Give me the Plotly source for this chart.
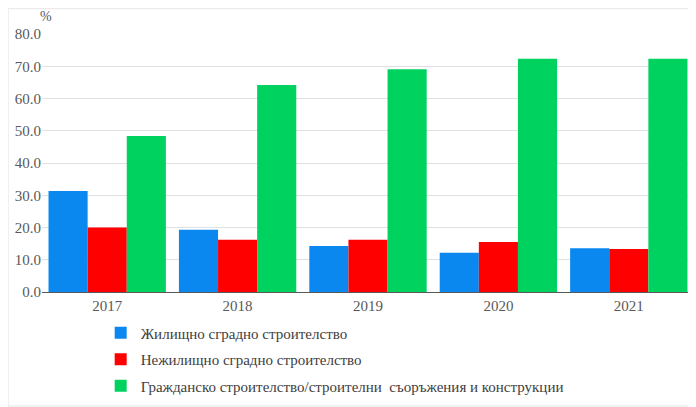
import plotly.graph_objects as go

years = ["2017", "2018", "2019", "2020", "2021"]
residential = [31.3, 19.3, 14.3, 12.2, 13.6]
non_residential = [20.0, 16.2, 16.2, 15.5, 13.3]
civil = [48.4, 64.2, 69.1, 72.3, 72.3]

series_names = [
    "Жилищно сградно строителство",
    "Нежилищно сградно строителство",
    "Гражданско строителство/строителни  съоръжения и конструкции",
]
colors = ["#0a88f0", "#ff0000", "#00d260"]
serif = "Liberation Serif, Times New Roman, serif"

fig = go.Figure()
for i, (name, vals) in enumerate(zip(series_names, [residential, non_residential, civil])):
    fig.add_trace(go.Bar(
        x=years, y=vals, name=name,
        marker=dict(color=colors[i], line=dict(width=0)),
        legendgroup="g%d" % i,
    ))

# page body has an 8px margin, so the figure is 8px smaller than the window
fig.update_layout(
    width=688, height=399,
    margin=dict(l=34, r=2, t=26, b=115, autoexpand=False),
    paper_bgcolor="white", plot_bgcolor="white",
    barmode="group", bargap=0.1, bargroupgap=0,
    font=dict(family=serif, size=15, color="#595959"),
    showlegend=True,
    legend=dict(
        orientation="v", x=0.09, xanchor="left", y=-0.095, yanchor="top",
        font=dict(family=serif, size=15, color="#404040"),
        tracegroupgap=4, traceorder="grouped",
        bgcolor="rgba(0,0,0,0)",
    ),
)
fig.update_xaxes(
    showline=True, linecolor="#595959", linewidth=1, automargin=False,
    showgrid=False, ticks="", tickfont=dict(family=serif, size=15, color="#595959"),
)
fig.update_yaxes(
    range=[0, 80], dtick=10, tickformat=".1f", automargin=False,
    showgrid=True, gridcolor="#e0e0e0", gridwidth=1,
    zeroline=False, showline=False, ticks="",
    tickfont=dict(family=serif, size=15, color="#595959"),
)
fig.add_annotation(
    text="%", xref="paper", yref="paper", x=0, y=1, xanchor="left", yanchor="bottom",
    xshift=-4, yshift=8, showarrow=False, font=dict(family=serif, size=14, color="#595959"),
)
fig.add_shape(
    type="rect", xref="paper", yref="paper", x0=-0.052, x1=1.002, y0=-0.442, y1=1.098,
    line=dict(color="#e6e6e6", width=1), layer="below",
)

fig.write_html("out.html")
